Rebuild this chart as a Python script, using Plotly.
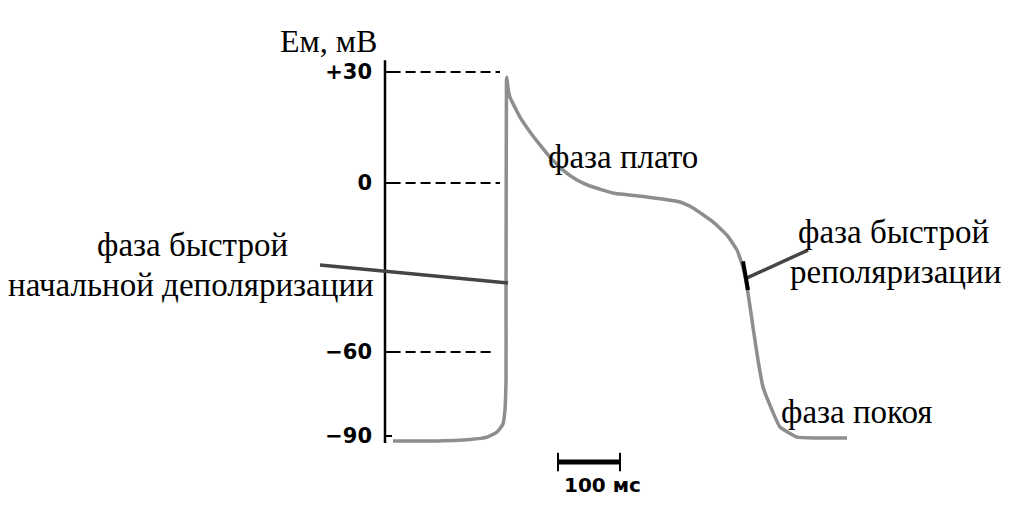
import numpy as np
import plotly.graph_objects as go

# ---- data (time in ms from the voltage axis, potential in mV)
time_ms = [12.9, 72.6, 137.1, 164.5, 180.6, 190.3, 193.5, 195.2, 195.2, 195.5, 195.8, 196.0, 196.5,
           198.4, 201.6, 217.7, 233.9, 250.0, 266.1, 287.1, 309.7, 330.6, 367.7, 422.6, 475.8,
           496.8, 529.0, 551.6, 567.7, 577.4, 585.5, 593.5, 601.6, 609.7, 624.2, 637.1, 664.5,
           696.8, 745.2]
em_mv = [-91.8, -91.8, -91.25, -90.4, -88.6, -85.7, -80.7, -70.0, -41.5, 0.8, 22.4, 27.8, 28.6,
         25.7, 23.2, 17.8, 13.8, 10.3, 7.0, 3.5, 0.8, -1.07, -3.55, -4.97, -6.75,
         -8.88, -13.8, -18.5, -23.8, -29.8, -39.1, -51.1, -62.9, -72.5, -80.7, -86.8, -90.4,
         -90.7, -90.7]

tick_mv = [-90, -60, 0, 30]
tick_labels = ["\u221290", "\u221260", "0", "+30"]
dashed_levels = [30, 0, -60]
dashed_end_ms = [185.5, 185.5, 177.4]
axis_span_mv = [-92.5, 33.2]

depol_pointer_ms = [-104.8, 198.4]
depol_pointer_mv = [-29.1, -35.5]
repol_pointer_ms = [583.9, 682.3]
repol_pointer_mv = [-33.7, -23.8]
repol_mark_ms = [577.4, 585.5]
repol_mark_mv = [-27.8, -38.0]

scale_start_ms = 279
scale_len_ms = 100
scale_level_mv = -99.3

label_axis = "Ем, мВ"
label_plateau = "фаза плато"
label_depol = ["фаза быстрой", "начальной деполяризации"]
label_repol = ["фаза быстрой", "реполяризации"]
label_rest = "фаза покоя"
label_scale = "100 мс"

# ---- the drawing's voltage scale is piecewise linear between its tick marks
scale_knots_u = [75, 159, 328, 439]


def vscale(mv):
    mv = np.asarray(mv, dtype=float)
    u = np.interp(mv, tick_mv, scale_knots_u)
    lo_slope = (scale_knots_u[1] - scale_knots_u[0]) / (tick_mv[1] - tick_mv[0])
    hi_slope = (scale_knots_u[-1] - scale_knots_u[-2]) / (tick_mv[-1] - tick_mv[-2])
    u = np.where(mv < tick_mv[0], scale_knots_u[0] + (mv - tick_mv[0]) * lo_slope, u)
    u = np.where(mv > tick_mv[-1], scale_knots_u[-1] + (mv - tick_mv[-1]) * hi_slope, u)
    return u


W, H = 1011, 511
OFF = 8            # page margin around the figure
PX_PER_MS = 0.62
AXIS_PX = 385

fig = go.Figure()

# voltage axis line
fig.add_trace(go.Scatter(x=[0, 0], y=vscale(axis_span_mv), mode="lines",
                         line=dict(color="black", width=2.5), hoverinfo="skip"))

# dashed reference levels
for lev, end in zip(dashed_levels, dashed_end_ms):
    fig.add_trace(go.Scatter(x=[9, end], y=vscale([lev, lev]), mode="lines",
                             line=dict(color="black", width=1.9, dash="10px,5px"), hoverinfo="skip"))

# action potential trace
fig.add_trace(go.Scatter(x=time_ms, y=vscale(em_mv), mode="lines",
                         line=dict(color="#8e8e8e", width=3.5, shape="spline", smoothing=0.4),
                         hoverinfo="skip"))

# pointers
fig.add_trace(go.Scatter(x=depol_pointer_ms, y=vscale(depol_pointer_mv), mode="lines",
                         line=dict(color="#454545", width=3.5), hoverinfo="skip"))
fig.add_trace(go.Scatter(x=repol_pointer_ms, y=vscale(repol_pointer_mv), mode="lines",
                         line=dict(color="#454545", width=3.5), hoverinfo="skip"))
fig.add_trace(go.Scatter(x=repol_mark_ms, y=vscale(repol_mark_mv), mode="lines",
                         line=dict(color="black", width=4), hoverinfo="skip"))

# time scale bar
sb_x = [scale_start_ms, scale_start_ms + scale_len_ms]
fig.add_trace(go.Scatter(x=sb_x, y=vscale([scale_level_mv] * 2), mode="lines",
                         line=dict(color="black", width=5), hoverinfo="skip"))
for xe in sb_x:
    fig.add_trace(go.Scatter(x=[xe, xe], y=vscale([scale_level_mv + 3.3, scale_level_mv - 3.3]),
                             mode="lines", line=dict(color="black", width=2), hoverinfo="skip"))

serif = dict(family="Liberation Serif", size=33, color="black")
sans = dict(family="DejaVu Sans", size=21, color="black", weight="bold")


def ann(text, px, py, font=serif):
    fig.add_annotation(text=text, x=(px - OFF) / W, y=1 - (py - OFF) / H,
                       xref="paper", yref="paper", showarrow=False,
                       xanchor="center", yanchor="middle", font=font)


ann(label_axis, 328, 41, font=dict(family="Liberation Serif", size=32, color="black"))
ann(label_plateau, 623, 157)
ann(label_depol[0], 192, 245)
ann(label_depol[1], 191, 285)
ann(label_repol[0], 893, 232)
ann(label_repol[1], 895, 272)
ann(label_rest, 857, 412)
ann(label_scale, 602, 485, font=dict(family="DejaVu Sans", size=20, color="black", weight="bold"))

fig.update_layout(
    width=W, height=H, margin=dict(l=0, r=0, t=0, b=0),
    paper_bgcolor="white", plot_bgcolor="white", showlegend=False,
    xaxis=dict(range=[(OFF - AXIS_PX) / PX_PER_MS, (W + OFF - AXIS_PX) / PX_PER_MS],
               visible=False, domain=[0, 1]),
    yaxis=dict(range=[-OFF, H - OFF], anchor="free", position=(AXIS_PX - OFF) / W,
               showgrid=False, zeroline=False, showline=False, tickmode="array",
               tickvals=list(vscale(tick_mv)), ticktext=tick_labels,
               ticks="inside", ticklen=6, tickwidth=2, tickcolor="black",
               ticklabelstandoff=13, tickfont=sans),
)

fig.write_html("out.html")
